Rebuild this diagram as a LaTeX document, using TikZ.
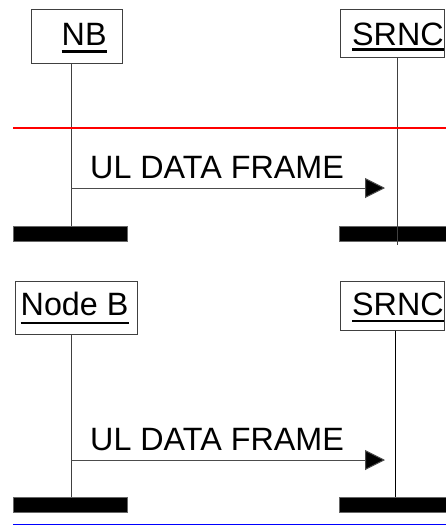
\documentclass[tikz,border=0pt]{standalone}
\usepackage{fontspec}
\setmainfont{Liberation Sans}
\usetikzlibrary{arrows.meta}
\begin{document}
\begin{tikzpicture}[x=1pt,y=-1pt,
  ent/.style={draw=black!75, line width=1pt, inner sep=0pt},
  lbl/.style={inner sep=0pt, anchor=base west, font=\fontsize{32.3}{32.3}\selectfont},
  uline/.style={line width=2.6pt, line cap=butt},
  life/.style={draw=black!75, line width=1pt},
  bar/.style={fill=black, draw=black!60, line width=0.5pt, inner sep=0pt, minimum height=15pt},
  msg/.style={draw=black!70, line width=1pt, -{Triangle[length=20pt,width=20pt,fill=black]}}]
\useasboundingbox (0,0) rectangle (446,525);
\fill[white] (0,0) rectangle (446,525);
% ---------- top diagram ----------
\node[ent, minimum width=91pt, minimum height=54pt] (nb) at (76.5,36) {};
\node[lbl] (nbt) at (61.5,45) {NB};
\draw[uline] ([yshift=-6.5pt]nbt.base west) -- ([yshift=-6.5pt]nbt.base east);
\node[ent, minimum width=104pt, minimum height=48pt] (srnc1) at (392,33) {};
\node[lbl] (srt1) at (352,45) {SRNC};
\draw[uline] ([yshift=-4.5pt]srt1.base west) -- ([yshift=-4.5pt]srt1.base east);
\node[bar, minimum width=114pt] (b1l) at (70,233.5) {};
\node[bar, minimum width=107pt] (b1r) at (392.5,233.5) {};
\coordinate (x1l) at (71,0);
\coordinate (e1r) at (397,245);
\draw[life] (nb.south -| x1l) -- (b1l.north -| x1l);
\draw[life] (srnc1.south -| e1r) -- (e1r);
\coordinate (redL) at (13,128);
\coordinate (redR) at (446,128);
\draw[red, line width=1.5pt] (redL) -- (redR);
\coordinate (a1s) at (71,188);
\coordinate (a1e) at (385,188);
\draw[msg] (a1s) -- (a1e);
\node[lbl] (m1) at (90,178) {UL DATA FRAME};
% ---------- bottom diagram ----------
\node[ent, minimum width=122pt, minimum height=53pt] (nodeb) at (76,307.5) {};
\node[lbl] (nbt2) at (20.5,315) {Node B};
\draw[uline] ([yshift=-8pt]nbt2.base west) -- ([yshift=-8pt]nbt2.base east);
\node[ent, minimum width=104pt, minimum height=49pt] (srnc2) at (392,305.5) {};
\node[lbl] (srt2) at (352,315) {SRNC};
\draw[uline] ([yshift=-6pt]srt2.base west) -- ([yshift=-6pt]srt2.base east);
\node[bar, minimum width=114pt] (b2l) at (70,505) {};
\node[bar, minimum width=107pt] (b2r) at (392.5,505) {};
\coordinate (x2l) at (71,0);
\coordinate (x2r) at (395.5,0);
\draw[life] (nodeb.south -| x2l) -- (b2l.north -| x2l);
\draw[life, draw=black] (srnc2.south -| x2r) -- (b2r.north -| x2r);
\coordinate (a2s) at (71,460);
\coordinate (a2e) at (385,460);
\draw[msg] (a2s) -- (a2e);
\node[lbl] (m2) at (90,450) {UL DATA FRAME};
\coordinate (blL) at (13,524.5);
\coordinate (blR) at (446,524.5);
\draw[blue, line width=1.5pt] (blL) -- (blR);
\end{tikzpicture}
\end{document}
